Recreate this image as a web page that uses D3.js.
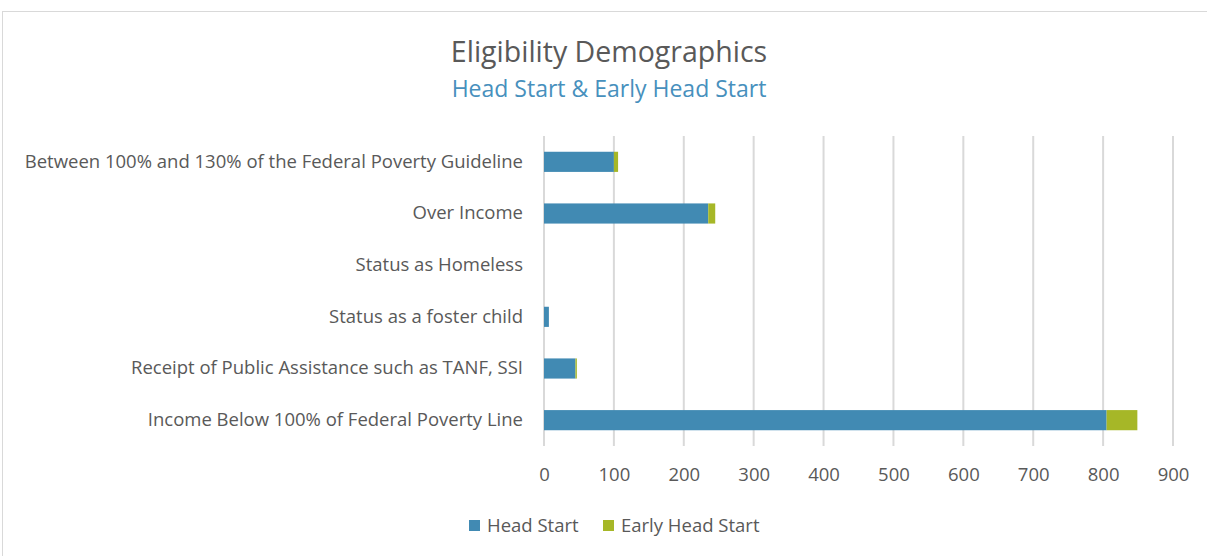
<!DOCTYPE html>
<html>
<head>
<meta charset="utf-8">
<script src="https://cdn.jsdelivr.net/npm/d3@7"></script>
<style>
  body { margin: 0; background: #fff; }
  text { font-family: "Open Sans", sans-serif; }
</style>
</head>
<body>
<div id="chart"></div>
<script>
// Categories, top to bottom
const categories = [
    "Between 100% and 130% of the Federal Poverty Guideline",
    "Over Income",
    "Status as Homeless",
    "Status as a foster child",
    "Receipt of Public Assistance such as TANF, SSI",
    "Income Below 100% of Federal Poverty Line"
];
const seriesNames = ["Head Start", "Early Head Start"];
const headStart = [100, 235, 0, 7, 45, 805];
const earlyHeadStart = [6, 10, 0, 0, 2, 44];
const xTicks = [0, 100, 200, 300, 400, 500, 600, 700, 800, 900];

const colors = ["#418ab3", "#a6b727"];

const svgWidth = 1207;
const svgHeight = 556;
const margin = { top: 136, right: 34, bottom: 110, left: 544 };
const width = svgWidth - margin.left - margin.right;
const height = svgHeight - margin.top - margin.bottom;
const labelSize = "18.5px";

const svg = d3.select("#chart")
    .append("svg")
    .attr("width", svgWidth)
    .attr("height", svgHeight);

// Chart area border
svg.append("rect")
    .attr("x", 2.5)
    .attr("y", 11.5)
    .attr("width", 1230)
    .attr("height", 580)
    .attr("fill", "none")
    .attr("stroke", "#d9d9d9");

// Titles
svg.append("text")
    .attr("x", 609)
    .attr("y", 62)
    .attr("text-anchor", "middle")
    .style("font-size", "28.5px")
    .style("fill", "#595959")
    .text("Eligibility Demographics");

svg.append("text")
    .attr("x", 609)
    .attr("y", 97)
    .attr("text-anchor", "middle")
    .style("font-size", "23px")
    .style("fill", "#4790bd")
    .text("Head Start & Early Head Start");

const plot = svg.append("g")
    .attr("transform", `translate(${margin.left}, ${margin.top})`);

const data = categories.map((c, i) => ({
    category: c,
    "Head Start": headStart[i],
    "Early Head Start": earlyHeadStart[i]
}));

const xScale = d3.scaleLinear()
    .domain([0, 900])
    .range([0, 629]);

const yScale = d3.scaleBand()
    .domain(categories)
    .range([0, height])
    .paddingInner(0.61)
    .paddingOuter(0.305);

// Gridlines
plot.append("g")
    .selectAll("line")
    .data(xTicks)
    .enter()
    .append("line")
    .attr("x1", d => xScale(d))
    .attr("x2", d => xScale(d))
    .attr("y1", 0)
    .attr("y2", height)
    .attr("stroke", "#d9d9d9")
    .attr("stroke-width", 2);

// Stacked bars
const stack = d3.stack().keys(seriesNames);
const layers = stack(data);

plot.selectAll(".layer")
    .data(layers)
    .enter()
    .append("g")
    .attr("class", "layer")
    .attr("fill", (d, i) => colors[i])
    .selectAll("rect")
    .data(d => d)
    .enter()
    .append("rect")
    .attr("x", d => xScale(d[0]))
    .attr("y", d => yScale(d.data.category))
    .attr("width", d => xScale(d[1]) - xScale(d[0]))
    .attr("height", yScale.bandwidth());

// X axis
const xAxis = plot.append("g")
    .attr("transform", `translate(0, ${height})`)
    .call(d3.axisBottom(xScale).tickValues(xTicks).tickSize(0).tickPadding(22));
xAxis.select(".domain").remove();
xAxis.selectAll("text")
    .style("font-size", labelSize)
    .style("fill", "#595959")
    .style("font-family", "'Open Sans', sans-serif");

// Y axis labels
const yAxis = plot.append("g")
    .call(d3.axisLeft(yScale).tickSize(0).tickPadding(21));
yAxis.select(".domain").remove();
yAxis.selectAll("text")
    .style("font-size", labelSize)
    .style("fill", "#595959")
    .style("font-family", "'Open Sans', sans-serif");

// Legend
const legendX = [469, 603];
const legend = svg.append("g")
    .selectAll("g")
    .data(seriesNames)
    .enter()
    .append("g")
    .attr("transform", (d, i) => `translate(${legendX[i]}, 520)`);

legend.append("rect")
    .attr("width", 11)
    .attr("height", 11)
    .attr("fill", (d, i) => colors[i]);

legend.append("text")
    .attr("x", 18)
    .attr("y", 12)
    .style("font-size", labelSize)
    .style("fill", "#595959")
    .text(d => d);
</script>
</body>
</html>
